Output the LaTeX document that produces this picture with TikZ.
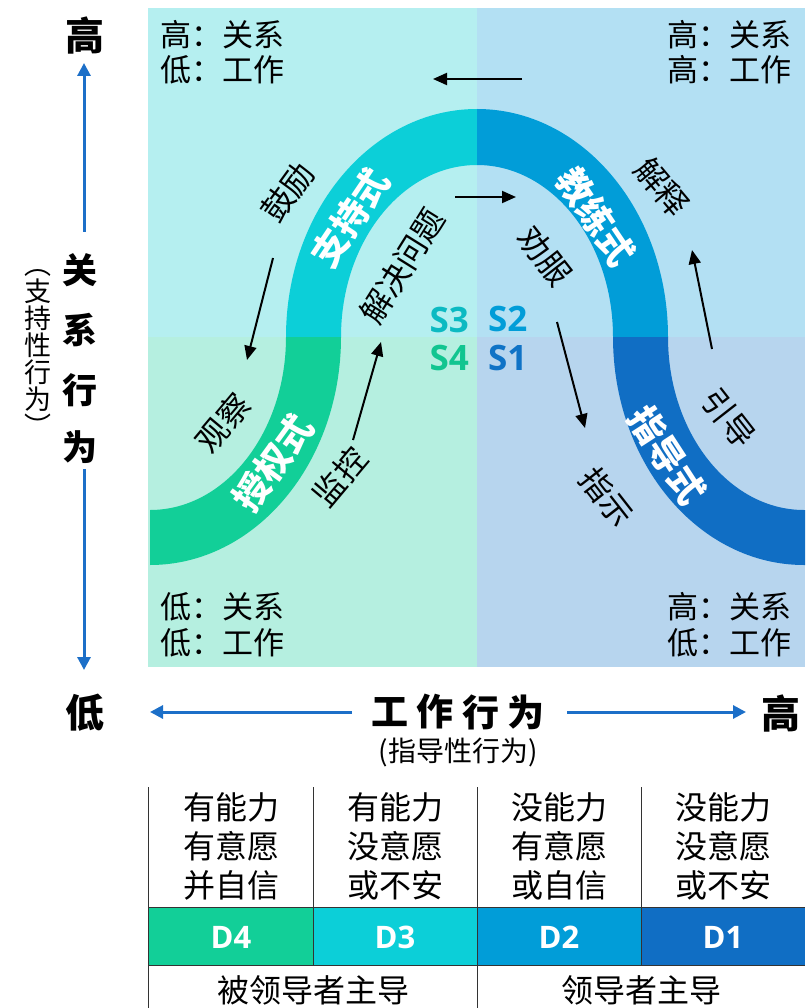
\documentclass[tikz,border=0pt]{standalone}
\usepackage{fontspec}
\setmainfont{Noto Sans CJK SC}
\newfontfamily\lat{Open Sans}
\usetikzlibrary{arrows.meta}
\definecolor{qTL}{HTML}{B5EFF0}
\definecolor{qTR}{HTML}{B3E0F3}
\definecolor{qBL}{HTML}{B5EFE0}
\definecolor{qBR}{HTML}{B7D5EE}
\definecolor{cD4}{HTML}{12CF98}
\definecolor{cD3}{HTML}{0CCFD8}
\definecolor{cD2}{HTML}{019DD8}
\definecolor{cD1}{HTML}{106EC4}
\definecolor{axisblue}{HTML}{1C6FC8}
\definecolor{gridline}{HTML}{333333}
\tikzset{
  lbl/.style={font=\fontsize{32}{35}\selectfont, inner sep=0pt},
  arclbl/.style={font=\fontsize{36}{38}\selectfont\bfseries, text=white, inner sep=0pt},
  corner/.style={font=\fontsize{31}{35}\selectfont, inner sep=0pt},
  slbl/.style={font=\lat\fontsize{35}{36}\selectfont\bfseries, inner sep=0pt},
  axbig/.style={font=\fontsize{39}{40}\selectfont\bfseries, inner sep=0pt},
  axmid/.style={font=\fontsize{35}{38}\selectfont\bfseries, inner sep=0pt},
  axword/.style={font=\fontsize{37}{38}\selectfont\bfseries, inner sep=0pt},
  axsmall/.style={font=\fontsize{28}{30}\selectfont, inner sep=0pt},
  blk/.style={line width=2pt, -{Triangle[length=14pt,width=12pt]}},
  blu/.style={line width=3pt, axisblue, -{Triangle[length=13pt,width=13pt]}},
  cell/.style={font=\fontsize{32}{39}\selectfont, align=center, inner sep=0pt},
  dlbl/.style={font=\lat\fontsize{31}{32}\selectfont\bfseries, text=white, inner sep=0pt},
  grid/.style={gridline, line width=1pt}
}
\begin{document}
\begin{tikzpicture}[x=1pt,y=1pt]
\useasboundingbox (0,0) rectangle (805,-1008);
% quadrants
\fill[qTL] (148,-8) rectangle (477,-337);
\fill[qTR] (477,-8) rectangle (805,-337);
\fill[qBL] (148,-337) rectangle (477,-667);
\fill[qBR] (477,-337) rectangle (805,-667);
% S-curve band
\fill[cD3] (286,-337) arc[start angle=180,end angle=90,x radius=191,y radius=228]
  -- (477,-165) arc[start angle=90,end angle=180,x radius=136,y radius=172] -- cycle;
\fill[cD2] (477,-109) arc[start angle=90,end angle=0,x radius=191,y radius=228]
  -- (613,-337) arc[start angle=0,end angle=90,x radius=136,y radius=172] -- cycle;
\fill[cD4] (341,-337) arc[start angle=0,end angle=-90,x radius=191,y radius=228]
  -- (150,-510) arc[start angle=-90,end angle=0,x radius=136,y radius=173] -- cycle;
\fill[cD1] (613,-337) arc[start angle=180,end angle=270,x radius=191,y radius=228]
  -- (805,-565) -- (805,-510) -- (804,-510) arc[start angle=270,end angle=180,x radius=136,y radius=173] -- cycle;
% corner texts
\node[corner, anchor=west] (ctl1) at (160,-35) {高：关系};
\node[corner, anchor=west] (ctl2) at (160,-70) {低：工作};
\node[corner, anchor=east] (ctr1) at (792,-35) {高：关系};
\node[corner, anchor=east] (ctr2) at (792,-70) {高：工作};
\node[corner, anchor=west] (cbl1) at (160,-607) {低：关系};
\node[corner, anchor=west] (cbl2) at (160,-643) {低：工作};
\node[corner, anchor=east] (cbr1) at (792,-607) {高：关系};
\node[corner, anchor=east] (cbr2) at (792,-643) {低：工作};
% band labels
\node[arclbl, rotate=56] (sup) at (350,-218) {支持式};
\node[arclbl, rotate=-56] (coa) at (596,-217) {教练式};
\node[arclbl, rotate=54] (del) at (273,-463) {授权式};
\node[arclbl, rotate=-57] (dir) at (667,-455) {指导式};
% behaviour labels
\node[lbl, rotate=54] (l1) at (288,-192) {鼓励};
\node[lbl, rotate=58] (l2) at (402,-266) {解决问题};
\node[lbl, rotate=-52] (l3) at (545,-256) {劝服};
\node[lbl, rotate=-50] (l4) at (662,-187) {解释};
\node[lbl, rotate=50] (l5) at (223,-423) {观察};
\node[lbl, rotate=50] (l6) at (340,-477) {监控};
\node[lbl, rotate=-52] (l7) at (607,-497) {指示};
\node[lbl, rotate=-52] (l8) at (729,-418) {引导};
% black arrows
\coordinate (a1s) at (522,-79); \coordinate (a1e) at (433,-79);
\coordinate (a2s) at (455,-197); \coordinate (a2e) at (516,-197);
\coordinate (a3s) at (273,-258); \coordinate (a3e) at (247,-360);
\coordinate (a4s) at (353,-440); \coordinate (a4e) at (381,-342);
\coordinate (a5s) at (557,-322); \coordinate (a5e) at (585,-428);
\coordinate (a6s) at (712,-349); \coordinate (a6e) at (692,-250);
\draw[blk] (a1s) -- (a1e);
\draw[blk] (a2s) -- (a2e);
\draw[blk] (a3s) -- (a3e);
\draw[blk] (a4s) -- (a4e);
\draw[blk] (a5s) -- (a5e);
\draw[blk] (a6s) -- (a6e);
% S labels
\node[slbl, text=cD3!90!black, anchor=east] (s3) at (469,-320) {S3};
\node[slbl, text=cD2, anchor=west] (s2) at (488,-319) {S2};
\node[slbl, text=cD4!95!black, anchor=east] (s4) at (469,-358) {S4};
\node[slbl, text=cD1!90!cD2, anchor=west] (s1) at (488,-358) {S1};
% vertical axis
\node[axbig] (vhi) at (85,-36) {高};
\node[axbig] (vlo) at (85,-713) {低};
\node[axmid] (r1) at (80,-270) {关};
\node[axmid] (r2) at (80,-330) {系};
\node[axmid] (r3) at (80,-390) {行};
\node[axmid] (r4) at (80,-447) {为};
\coordinate (vup1) at (84,-232); \coordinate (vup2) at (84,-63);
\coordinate (vdn1) at (84,-469); \coordinate (vdn2) at (84,-670);
\draw[blu] (vup1) -- (vup2);
\draw[blu] (vdn1) -- (vdn2);
\node[align=center, inner sep=0pt, font=\fontsize{27}{27}\selectfont] (vsub) at (38,-353) {︵\\支\\持\\性\\行\\为\\︶};
% horizontal axis
\node[axword] (h1) at (390,-712) {工};
\node[axword] (h2) at (435,-712) {作};
\node[axword] (h3) at (481,-712) {行};
\node[axword] (h4) at (526,-712) {为};
\node[axbig] (hhi) at (781,-713) {高};
\node[axsmall] (hsub) at (458,-752) {(指导性行为)};
\coordinate (hl1) at (352,-712); \coordinate (hl2) at (150,-712);
\coordinate (hr1) at (567,-712); \coordinate (hr2) at (746,-712);
\draw[blu] (hl1) -- (hl2);
\draw[blu] (hr1) -- (hr2);
% table
\fill[cD4] (148,-907) rectangle (313,-965);
\fill[cD3] (313,-907) rectangle (477,-965);
\fill[cD2] (477,-907) rectangle (641,-965);
\fill[cD1] (641,-907) rectangle (805,-965);
\draw[grid] (148,-787) -- (148,-1008);
\draw[grid] (313,-787) -- (313,-965);
\draw[grid] (477,-787) -- (477,-1008);
\draw[grid] (641,-787) -- (641,-965);
\draw[grid] (148,-907) -- (805,-907);
\draw[grid] (148,-965) -- (805,-965);
\node[cell] (t1) at (231,-846) {有能力\\有意愿\\并自信};
\node[cell] (t2) at (395,-846) {有能力\\没意愿\\或不安};
\node[cell] (t3) at (559,-846) {没能力\\有意愿\\或自信};
\node[cell] (t4) at (723,-846) {没能力\\没意愿\\或不安};
\node[dlbl] (d4) at (231,-937) {D4};
\node[dlbl] (d3) at (395,-937) {D3};
\node[dlbl] (d2) at (559,-937) {D2};
\node[dlbl] (d1) at (723,-937) {D1};
\node[cell] (b1) at (313,-990) {被领导者主导};
\node[cell] (b2) at (641,-990) {领导者主导};
\end{tikzpicture}
\end{document}
